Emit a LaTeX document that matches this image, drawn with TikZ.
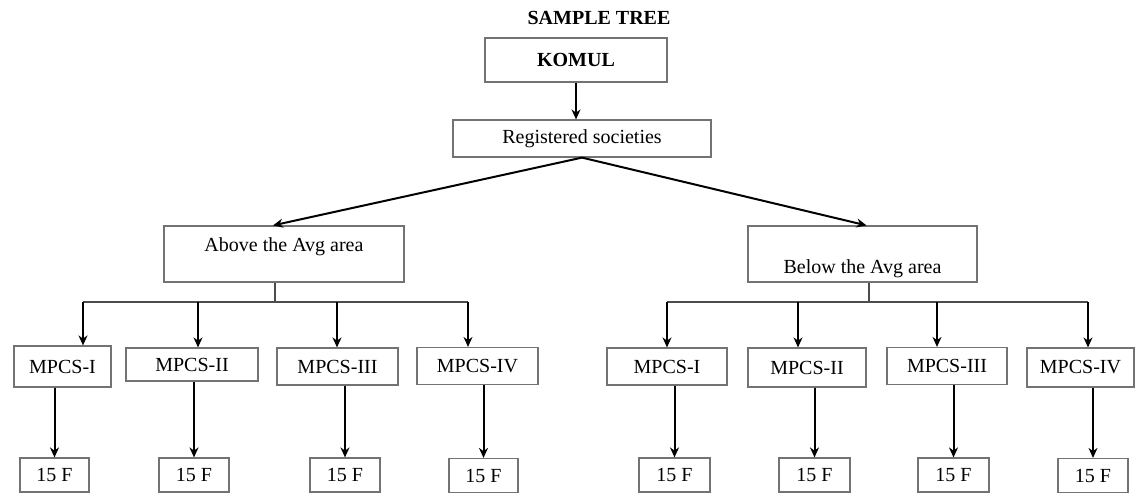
\documentclass[tikz,border=0pt]{standalone}
\usepackage{fontspec}
\setmainfont{Liberation Serif}
\usetikzlibrary{arrows.meta}

\begin{document}
\begin{tikzpicture}[x=0.5pt, y=-0.5pt, font=\fontsize{10}{12}\selectfont,
  box/.style = {draw=black!55, line width=0.6pt, inner sep=0pt},
  item/.style = {box, minimum height=18.5pt},
  leaf/.style = {box, minimum width=35pt, minimum height=17pt},
  link/.style = {draw=black!70, line width=0.7pt},
  arr/.style = {black, line width=1pt, -{Stealth[length=5pt,width=4.5pt]}}]
\useasboundingbox (0,0) rectangle (1136,495);
\node (title) at (599,18) {\textbf{SAMPLE TREE}};
\node[box, minimum width=91pt, minimum height=22pt] (komul) at (576,60) {\textbf{KOMUL}};
\node[box, minimum width=129pt, minimum height=18.5pt] (reg) at (582,138.5) {Registered societies};
\node[box, minimum width=120pt, text height=12.5pt, text depth=15.5pt] (above) at (284,254) {Above the Avg area};
\node[box, minimum width=114.5pt, text height=23.5pt, text depth=4.5pt] (below) at (862.5,254) {Below the Avg area};
\node[item, minimum width=48.5pt, minimum height=20.5pt] (a1) at (62.5,366.5) {MPCS-I};
\node[item, minimum width=66pt, minimum height=16.5pt] (a2) at (192,364.5) {MPCS-II};
\node[item, minimum width=60.5pt] (a3) at (337.5,366.5) {MPCS-III};
\node[item, minimum width=60.5pt] (a4) at (477.5,366) {MPCS-IV};
\node[item, minimum width=60pt] (b1) at (667,366.5) {MPCS-I};
\node[item, minimum width=59pt, minimum height=19.5pt] (b2) at (807,367.5) {MPCS-II};
\node[item, minimum width=60pt] (b3) at (947,366) {MPCS-III};
\node[item, minimum width=53.5pt, minimum height=19.5pt] (b4) at (1080.5,367.5) {MPCS-IV};
\node[leaf, minimum width=34.5pt] (fa1) at (54.5,475) {15 F};
\node[leaf] (fa2) at (194,475) {15 F};
\node[leaf] (fa3) at (345,475) {15 F};
\node[leaf, minimum width=34.5pt] (fa4) at (483.5,475.5) {15 F};
\node[leaf, minimum width=35.5pt] (fb1) at (674.5,475) {15 F};
\node[leaf, minimum width=35.5pt] (fb2) at (814.5,475) {15 F};
\node[leaf, minimum width=35.5pt] (fb3) at (953.5,475) {15 F};
\node[leaf] (fb4) at (1093,475.5) {15 F};
\coordinate (ls) at (275,302);
\coordinate (rs) at (869,302);
\coordinate (ta1) at (83,302);
\coordinate (ta2) at (198,302);
\coordinate (ta3) at (337,302);
\coordinate (ta4) at (468,302);
\coordinate (tb1) at (667,302);
\coordinate (tb2) at (798,302);
\coordinate (tb3) at (937,302);
\coordinate (tb4) at (1088,302);
\draw[arr] (komul.south) -- (komul.south |- reg.north);
\draw[arr] (reg.south) -- ([xshift=-5.5pt]above.north);
\draw[arr] (reg.south) -- ([xshift=2pt]below.north);
\draw[link] (ls |- above.south) -- (ls);
\draw[link] (rs |- below.south) -- (rs);
\draw[link] (ta1) -- (ta4);
\draw[link] (tb1) -- (tb4);
\draw[arr] (ta1) -- (ta1 |- a1.north);
\draw[arr] (ta2) -- (ta2 |- a2.north);
\draw[arr] (ta3) -- (ta3 |- a3.north);
\draw[arr] (ta4) -- (ta4 |- a4.north);
\draw[arr] (tb1) -- (tb1 |- b1.north);
\draw[arr] (tb2) -- (tb2 |- b2.north);
\draw[arr] (tb3) -- (tb3 |- b3.north);
\draw[arr] (tb4) -- (tb4 |- b4.north);
\draw[arr] (fa1.north |- a1.south) -- (fa1.north);
\draw[arr] (fa2.north |- a2.south) -- (fa2.north);
\draw[arr] (fa3.north |- a3.south) -- (fa3.north);
\draw[arr] (fa4.north |- a4.south) -- (fa4.north);
\draw[arr] (fb1.north |- b1.south) -- (fb1.north);
\draw[arr] (fb2.north |- b2.south) -- (fb2.north);
\draw[arr] (fb3.north |- b3.south) -- (fb3.north);
\draw[arr] (fb4.north |- b4.south) -- (fb4.north);
\end{tikzpicture}
\end{document}
